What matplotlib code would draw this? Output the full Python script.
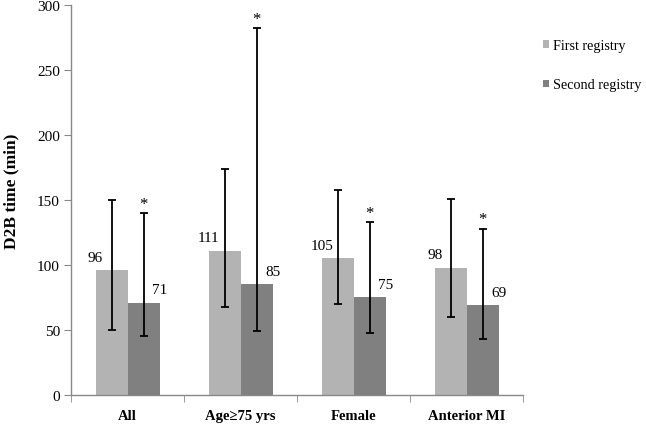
import matplotlib
matplotlib.use("Agg")
import matplotlib.pyplot as plt
import numpy as np

categories = ["All", "Age\u226575 yrs", "Female", "Anterior MI"]
first = [96, 111, 105, 98]
second = [71, 85, 75, 69]
first_lo = [50, 68, 70, 60]
first_hi = [150, 174, 158, 151]
second_lo = [45, 49, 48, 43]
second_hi = [140, 282, 133, 128]
yticks = [0, 50, 100, 150, 200, 250, 300]

plt.rcParams['font.family'] = ['Liberation Serif', 'DejaVu Serif']

fig = plt.figure(figsize=(6.46, 4.27), dpi=100)
ax = fig.add_axes([0.110, 0.0726, 0.700, 0.9134])

x = np.arange(len(categories))
w = 0.283
c1 = "#b3b3b3"
c2 = "#808080"
ax.bar(x - w/2, first, w, color=c1, label="First registry")
ax.bar(x + w/2, second, w, color=c2, label="Second registry")

f = np.array(first); s = np.array(second)
ax.errorbar(x - w/2, f, yerr=[f - np.array(first_lo), np.array(first_hi) - f],
            fmt='none', ecolor='black', elinewidth=1.3, capsize=3, capthick=1.3)
ax.errorbar(x + w/2, s, yerr=[s - np.array(second_lo), np.array(second_hi) - s],
            fmt='none', ecolor='black', elinewidth=1.3, capsize=3, capthick=1.3)

for i in range(len(categories)):
    ax.text(x[i] - w, first[i] + 10, str(first[i]), ha='center', va='center', fontsize=11)
    ax.text(x[i] + w, second[i] + 10, str(second[i]), ha='center', va='center', fontsize=11)
    ax.text(x[i] + w/2, second_hi[i] + 1, "*", ha='center', va='bottom', fontsize=12)

ax.set_xlim(-0.5, len(categories) - 0.5)
ax.set_ylim(0, 300)
ax.set_yticks(yticks)
ax.set_xticks(x)
ax.set_xticklabels(categories, fontweight='bold', fontsize=10.5)
ax.set_xticks(np.arange(-0.5, len(categories)), minor=True)
ax.tick_params(axis='x', which='major', length=0, pad=10)
ax.tick_params(axis='x', which='minor', length=5, color='#888888', direction='out')
ax.tick_params(axis='y', length=5, color='#888888', labelsize=11, pad=3)
ax.set_ylabel("D2B time (min)", fontweight='bold', fontsize=12.5)
ax.yaxis.set_label_coords(-0.115, 0.526)

for sp in ['top', 'right']:
    ax.spines[sp].set_visible(False)
for sp in ['left', 'bottom']:
    ax.spines[sp].set_color('#888888')
    ax.spines[sp].set_linewidth(1.0)

ax.legend(loc='upper left', bbox_to_anchor=(1.015, 0.945), frameon=False,
          fontsize=10.2, handlelength=0.45, handleheight=0.45, handletextpad=0.25,
          labelspacing=1.85)

fig.savefig("out.png", dpi=100)
